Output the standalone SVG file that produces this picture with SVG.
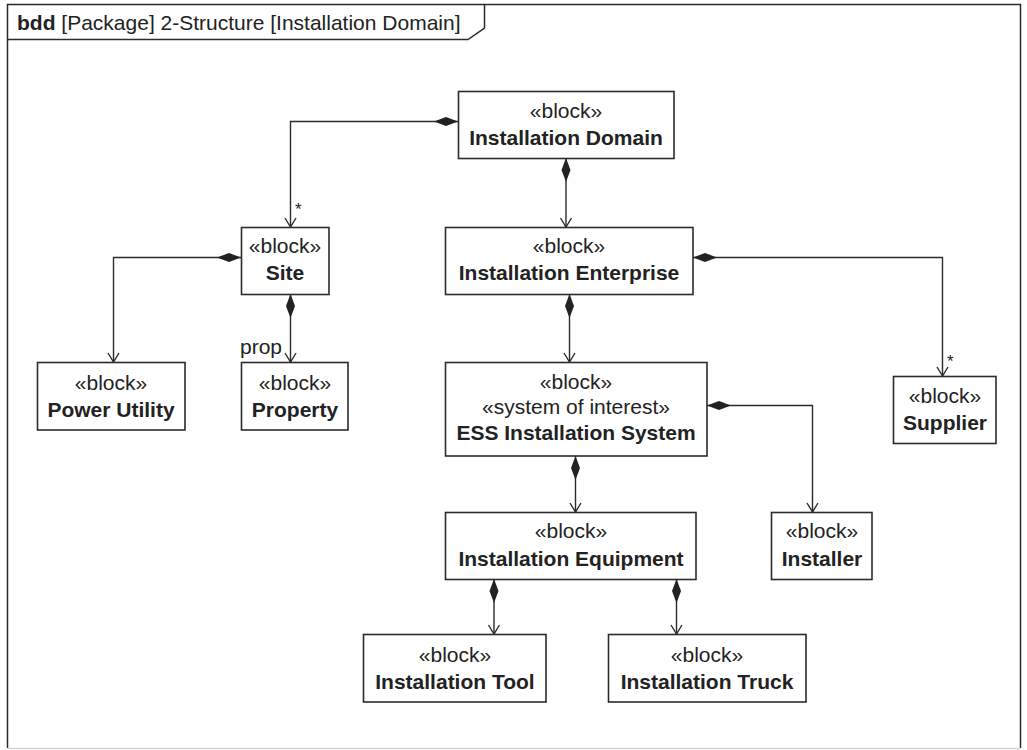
<svg xmlns="http://www.w3.org/2000/svg" width="1027" height="750" viewBox="0 0 1027 750">
  <style>
    .frame { fill: none; stroke: #2b2b2b; stroke-width: 1.5; }
    .box { fill: #ffffff; stroke: #2b2b2b; stroke-width: 1.6; }
    .txt { font-family: "Liberation Sans", Arial, sans-serif; font-size: 21px; fill: #222222; }
    .st { text-anchor: middle; }
    .nm { text-anchor: middle; font-weight: bold; }
    .conn { fill: none; stroke: #2b2b2b; stroke-width: 1.4; marker-start: url(#composite); marker-end: url(#open-arrow); }
    .mult { font-family: "Liberation Sans", Arial, sans-serif; font-size: 17px; fill: #222222; }
  </style>
  <defs>
    <!-- filled diamond at the owning (whole) end -->
    <marker id="composite" viewBox="0 0 24 10" refX="0" refY="5" markerWidth="24" markerHeight="10" markerUnits="userSpaceOnUse" orient="auto">
      <path d="M0,5 L12,0.5 L24,5 L12,9.5 Z" fill="#222222"/>
    </marker>
    <!-- open arrowhead at the part end -->
    <marker id="open-arrow" viewBox="-11 -7 12 14" refX="0" refY="0" markerWidth="12" markerHeight="14" markerUnits="userSpaceOnUse" orient="auto">
      <path d="M-9,-5.5 L0,0 L-9,5.5" fill="none" stroke="#2b2b2b" stroke-width="1.4"/>
    </marker>
  </defs>

  <rect width="1027" height="750" fill="#ffffff"/>

  <!-- diagram frame with header tab -->
  <g id="frame">
    <path class="frame" d="M7.5,748 V4.5 H1020.5 V748"/>
    <line x1="7.5" y1="748.5" x2="1020.5" y2="748.5" stroke="#d4d4d4" stroke-width="1.5"/>
    <path class="frame" d="M7.5,39.5 H468 L484.5,28 V4.5"/>
    <text class="txt" x="17" y="30"><tspan font-weight="bold">bdd</tspan> [Package] 2-Structure [Installation Domain]</text>
  </g>

  <!-- composition connectors -->
  <g id="connectors">
    <path class="conn" d="M458,121.5 H290.5 V227"/>
    <path class="conn" d="M566,158 V227"/>
    <path class="conn" d="M241,257.5 H113.5 V362"/>
    <path class="conn" d="M290.5,294 V362"/>
    <path class="conn" d="M569.5,294 V362"/>
    <path class="conn" d="M693,257.5 H942.5 V376"/>
    <path class="conn" d="M575.5,456 V512"/>
    <path class="conn" d="M707,405.5 H812.5 V512"/>
    <path class="conn" d="M494,579 V634"/>
    <path class="conn" d="M676.5,579 V634"/>
    <text class="mult" x="295" y="215">*</text>
    <text class="mult" x="947" y="367">*</text>
    <text class="txt" x="240" y="354">prop</text>
  </g>

  <g id="installation-domain">
    <rect class="box" x="458.5" y="91.5" width="215.5" height="67"/>
    <text class="txt st" x="566" y="118">«block»</text>
    <text class="txt nm" x="566" y="145">Installation Domain</text>
  </g>

  <g id="site">
    <rect class="box" x="241.5" y="227.5" width="87.5" height="67"/>
    <text class="txt st" x="285" y="253">«block»</text>
    <text class="txt nm" x="285" y="280">Site</text>
  </g>

  <g id="installation-enterprise">
    <rect class="box" x="445.5" y="227.5" width="247.5" height="67"/>
    <text class="txt st" x="569" y="253">«block»</text>
    <text class="txt nm" x="569" y="280">Installation Enterprise</text>
  </g>

  <g id="power-utility">
    <rect class="box" x="37.5" y="362.5" width="147.5" height="67.5"/>
    <text class="txt st" x="111" y="390">«block»</text>
    <text class="txt nm" x="111" y="417">Power Utility</text>
  </g>

  <g id="property">
    <rect class="box" x="241.5" y="362.5" width="106.5" height="67.5"/>
    <text class="txt st" x="295" y="390">«block»</text>
    <text class="txt nm" x="295" y="417">Property</text>
  </g>

  <g id="ess-installation-system">
    <rect class="box" x="445.5" y="362.5" width="261.5" height="93.5"/>
    <text class="txt st" x="576" y="389">«block»</text>
    <text class="txt st" x="576" y="414">«system of interest»</text>
    <text class="txt nm" x="576" y="440">ESS Installation System</text>
  </g>

  <g id="supplier">
    <rect class="box" x="893.5" y="376.5" width="102.5" height="67"/>
    <text class="txt st" x="945" y="403">«block»</text>
    <text class="txt nm" x="945" y="430">Supplier</text>
  </g>

  <g id="installation-equipment">
    <rect class="box" x="445.5" y="512.5" width="250.5" height="67"/>
    <text class="txt st" x="571" y="538">«block»</text>
    <text class="txt nm" x="571" y="566">Installation Equipment</text>
  </g>

  <g id="installer">
    <rect class="box" x="771.5" y="512.5" width="100.5" height="67"/>
    <text class="txt st" x="822" y="538">«block»</text>
    <text class="txt nm" x="822" y="566">Installer</text>
  </g>

  <g id="installation-tool">
    <rect class="box" x="363.5" y="634.5" width="182.5" height="67.5"/>
    <text class="txt st" x="455" y="662">«block»</text>
    <text class="txt nm" x="455" y="689">Installation Tool</text>
  </g>

  <g id="installation-truck">
    <rect class="box" x="608.5" y="634.5" width="197.5" height="67.5"/>
    <text class="txt st" x="707" y="662">«block»</text>
    <text class="txt nm" x="707" y="689">Installation Truck</text>
  </g>
</svg>
